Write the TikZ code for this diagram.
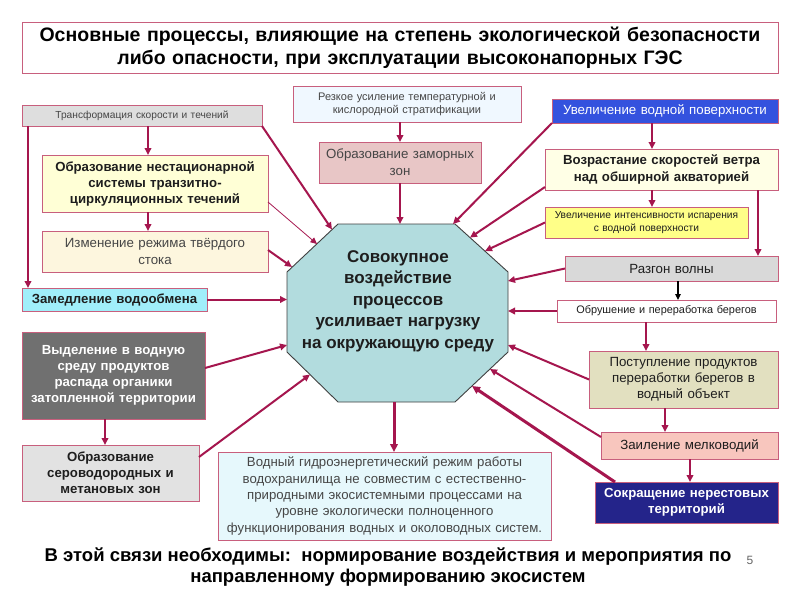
\documentclass[tikz,border=0pt]{standalone}
\usepackage{fontspec}
\setmainfont{Liberation Sans}
\usetikzlibrary{arrows.meta}
\definecolor{arrc}{RGB}{165,22,78}
\definecolor{bord}{RGB}{200,95,125}
\definecolor{txt}{RGB}{30,30,30}
\definecolor{txtg}{RGB}{70,70,70}
\definecolor{cT}{RGB}{222,222,222}
\definecolor{cN}{RGB}{255,255,214}
\definecolor{cI}{RGB}{253,246,222}
\definecolor{cZ}{RGB}{160,238,250}
\definecolor{cV}{RGB}{112,112,112}
\definecolor{cS}{RGB}{226,226,226}
\definecolor{cR}{RGB}{240,248,255}
\definecolor{cM}{RGB}{232,198,198}
\definecolor{cU}{RGB}{52,82,222}
\definecolor{cW}{RGB}{255,255,230}
\definecolor{cE}{RGB}{255,255,136}
\definecolor{cG}{RGB}{217,217,217}
\definecolor{cP}{RGB}{226,224,192}
\definecolor{cL}{RGB}{248,198,190}
\definecolor{cK}{RGB}{36,36,138}
\definecolor{cB}{RGB}{230,248,252}
\definecolor{cO}{RGB}{178,220,222}
\begin{document}
\begin{tikzpicture}[x=1pt,y=-1pt,
  box/.style={draw=bord, line width=0.8pt, inner sep=1pt, outer sep=0pt, align=center, text=txt},
  arr/.style={draw=arrc, line width=2pt, -{Triangle[length=7pt,width=6.5pt]}},
  thinarr/.style={draw=arrc, line width=0.8pt, -{Triangle[length=6.5pt,width=6pt]}},
  thickarr/.style={draw=arrc, line width=3pt, -{Triangle[length=8pt,width=7.5pt]}},
  blackarr/.style={draw=black, line width=1.2pt, -{Triangle[length=6pt,width=5.5pt]}},
  fsm/.style={font=\fontsize{10.2}{12.5}\selectfont},
  fmd/.style={font=\fontsize{13.3}{17}\selectfont},
  fb/.style={font=\fontsize{13.2}{16}\selectfont\bfseries},
]
\useasboundingbox (0,0) rectangle (800,600);
\fill[white] (0,0) rectangle (800,600);

% title
\node[box, minimum width=756pt, minimum height=51pt, text width=752pt,
  font=\fontsize{19.5}{23}\selectfont\bfseries, text=black] (title) at (400,47.5)
  {Основные процессы, влияющие на степень экологической безопасности\\либо опасности, при эксплуатации высоконапорных ГЭС};

% left column
\node[box, fill=cT, fsm, text=txtg, minimum width=240pt, minimum height=21pt, text width=236pt] (t1) at (142,115.5) {Трансформация скорости и течений};
\node[box, fill=cN, fb, minimum width=226pt, minimum height=57pt, text width=224pt] (n1) at (155,183.5) {Образование нестационарной\\системы транзитно-\\циркуляционных течений};
\node[box, fill=cI, fmd, text=txtg, minimum width=226pt, minimum height=41pt, text width=222pt] (n2) at (155,251.5) {Изменение режима твёрдого\\стока};
\node[box, fill=cZ, fb, minimum width=185pt, minimum height=23pt, text width=183pt] (n3) at (114.5,299.5) {Замедление водообмена};
\node[box, fill=cV, fb, text=white, minimum width=183pt, minimum height=87pt, text width=181pt] (n4) at (113.5,375.5) {Выделение в водную\\среду продуктов\\распада органики\\затопленной территории};
\node[box, fill=cS, fb, minimum width=177pt, minimum height=56pt, text width=175pt] (n5) at (110.5,473) {Образование\\сероводородных и\\метановых зон};

% middle top
\node[box, fill=cR, font=\fontsize{11}{13}\selectfont, text=txtg, minimum width=228pt, minimum height=36pt, text width=226pt] (m1) at (407,104) {Резкое усиление температурной и\\кислородной стратификации};
\node[box, fill=cM, fmd, text=txtg, minimum width=162pt, minimum height=41pt, text width=160pt] (m2) at (400,162.5) {Образование заморных\\зон};

% right column
\node[box, fill=cU, fmd, text=white, minimum width=226pt, minimum height=24pt, text width=224pt] (r1) at (665,111) {Увеличение водной поверхности};
\node[box, fill=cW, font=\fontsize{13.2}{17}\selectfont\bfseries, minimum width=233pt, minimum height=41pt, text width=231pt] (r2) at (661.5,169.5) {Возрастание скоростей ветра\\над обширной акваторией};
\node[box, fill=cE, fsm, minimum width=203pt, minimum height=31pt, text width=201pt] (r3) at (646.5,222.5) {Увеличение интенсивности испарения\\с водной поверхности};
\node[box, fill=cG, fmd, minimum width=213pt, minimum height=25pt, text width=211pt] (r4) at (671.5,268.5) {Разгон волны};
\node[box, fill=white, font=\fontsize{10.9}{13}\selectfont, minimum width=219pt, minimum height=22pt, text width=217pt] (r5) at (666.5,311) {Обрушение и переработка берегов};
\node[box, fill=cP, font=\fontsize{13.3}{16}\selectfont, minimum width=189pt, minimum height=57pt, text width=187pt] (r6) at (683.5,379.5) {Поступление продуктов\\переработки берегов в\\водный объект};
\node[box, fill=cL, fmd, minimum width=177pt, minimum height=27pt, text width=175pt] (r7) at (689.5,445.5) {Заиление мелководий};
\node[box, fill=cK, fb, text=white, minimum width=183pt, minimum height=41pt, text width=181pt] (r8) at (686.5,502.5) {Сокращение нерестовых\\территорий};

% bottom middle
\node[box, fill=cB, font=\fontsize{13.2}{16.3}\selectfont, text=txtg, minimum width=333pt, minimum height=88pt, text width=331pt] (b1) at (384.5,496) {Водный гидроэнергетический режим работы\\водохранилища не совместим с естественно-\\природными экосистемными процессами на\\уровне экологически полноценного\\функционирования водных и околоводных систем.};

% octagon
\draw[draw=black!75, line width=0.9pt, fill=cO] (338,224) -- (455,224) -- (508,272) -- (508,352) -- (455,402) -- (338,402) -- (287,352) -- (287,272) -- cycle;
\node[align=center, font=\fontsize{17}{21.5}\selectfont\bfseries, text=txt] (oct) at (398,301) {Совокупное\\воздействие\\процессов\\усиливает нагрузку\\на окружающую среду};

% endpoints on the octagon
\coordinate (o1) at (332,229.5);
\coordinate (o2) at (317,244);
\coordinate (o3) at (292,267);
\coordinate (o4) at (287,299.5);
\coordinate (o5) at (287,345);
\coordinate (o6) at (310,374.5);
\coordinate (o7) at (400,224);
\coordinate (o8) at (453,224);
\coordinate (o9) at (470,237.6);
\coordinate (o10) at (485,251);
\coordinate (o11) at (508,281);
\coordinate (o12) at (508,311);
\coordinate (o13) at (508,345);
\coordinate (o14) at (490,369);
\coordinate (o15) at (472,386);
\coordinate (o16) at (394,402);

% connectors left
\draw[arr] (t1.south east) -- (o1);
\draw[arr] ([xshift=126pt]t1.south west) -- ([xshift=106pt]n1.north west);
\draw[arr] ([xshift=6pt]t1.south west) -- ([xshift=6pt]n3.north west);
\draw[arr] ([xshift=106pt]n1.south west) -- ([xshift=106pt]n2.north west);
\draw[thinarr] ([yshift=10pt]n1.south east) -- (o2);
\draw[arr] ([yshift=22pt]n2.south east) -- (o3);
\draw[arr] (n3.east) -- (o4);
\draw[arr] ([yshift=51pt]n4.south east) -- (o5);
\draw[arr] ([xshift=83pt]n4.south west) -- ([xshift=83pt]n5.north west);
\draw[arr] ([yshift=-12pt]n5.north east) -- (o6);

% connectors middle
\draw[arr] ([xshift=107pt]m1.south west) -- (m2.north);
\draw[arr] (m2.south) -- (o7);

% connectors right
\draw[arr] (r1.south west) -- (o8);
\draw[arr] ([xshift=100pt]r1.south west) -- ([xshift=107pt]r2.north west);
\draw[arr] ([xshift=107pt]r2.south west) -- ([xshift=107pt]r3.north west);
\draw[arr] ([xshift=213pt]r2.south west) -- ([xshift=193pt]r4.north west);
\draw[arr] ([yshift=3pt]r2.south west) -- (o9);
\draw[arr] (r3.west) -- (o10);
\draw[arr] (r4.west) -- (o11);
\draw[blackarr] ([xshift=113pt]r4.south west) -- ([xshift=121pt]r5.north west);
\draw[arr] (r5.west) -- (o12);
\draw[arr] ([xshift=89pt]r5.south west) -- ([xshift=57pt]r6.north west);
\draw[arr] (r6.west) -- (o13);
\draw[arr] ([xshift=76pt]r6.south west) -- ([xshift=64pt]r7.north west);
\draw[arr] ([yshift=-5pt]r7.north west) -- (o14);
\draw[arr] ([xshift=89pt]r7.south west) -- ([xshift=95pt]r8.north west);
\draw[thickarr] ([xshift=20pt]r8.north west) -- (o15);
\draw[thickarr] (o16) -- ([xshift=176pt]b1.north west);

% bottom text
\node[align=center, font=\fontsize{18.5}{21.5}\selectfont\bfseries, text=black] (concl) at (388,567)
  {В этой связи необходимы:\ \ нормирование воздействия и мероприятия по\\направленному формированию экосистем};
\node[font=\fontsize{12}{14}\selectfont, text=black!60] (pg) at (750,560) {5};
\end{tikzpicture}
\end{document}
